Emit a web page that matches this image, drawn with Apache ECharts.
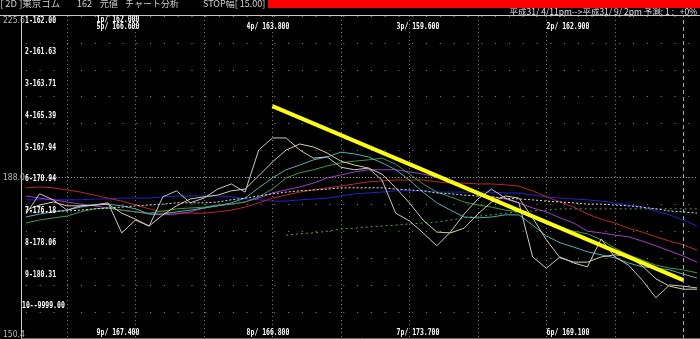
<!DOCTYPE html>
<html><head><meta charset="utf-8">
<script src="https://cdn.jsdelivr.net/npm/echarts@6/dist/echarts.min.js"></script>
<style>html,body{margin:0;padding:0;background:#000;overflow:hidden}#c{width:700px;height:339px}</style>
</head><body><div id="c"></div>
<script>
// ---- data ----
const categories = ['1','2','3','4','5','6','7','8','9','10','11','12','13','14','15','16','17','18','19','20','21','22','23','24','25','26','27','28','29','30','31','32','33','34','35','36','37','38','39','40','41','42','43','44','45','46','47','48','49','50'];
const yTickLabels = ['150.4', '188.0', '225.6'];
const price = [179.5,184.2,182.8,180.4,181.4,181.6,182.1,175.1,178.1,176.7,183.5,184.9,182.1,183.2,185.3,186.5,184.6,194.4,197.2,197.2,194.4,192.5,192.8,190.4,189.8,190.2,187.4,179.7,177.9,175.1,172.1,175.3,179.5,183.0,185.3,183.2,182.1,169.5,166.9,169.5,168.1,167.2,173.7,169.5,167.6,164.1,160.0,163.0,162.7,162.3];
const maKhaki = [180.4,181.6,182.3,181.4,181.4,181.6,181.8,179.7,178.3,176.7,179.3,181.4,183.0,183.5,183.9,184.9,185.3,188.4,191.6,194.4,195.8,195.1,193.7,191.8,190.9,190.2,188.8,185.6,182.1,178.1,175.3,175.1,176.2,179.5,182.3,183.7,183.2,178.6,173.5,169.3,168.3,168.3,169.5,170.0,169.7,167.4,164.4,162.7,162.0,162.0];
const maCyan = [178.8,179.5,180.0,180.4,181.1,181.6,181.8,181.4,180.7,179.5,179.5,180.0,180.4,180.9,181.4,182.1,183.2,185.6,187.9,189.8,190.9,192.1,192.8,193.9,193.5,192.8,191.4,189.8,187.4,184.6,182.1,180.4,178.8,178.6,178.8,179.3,179.3,176.9,174.4,172.8,171.8,170.7,170.0,169.3,168.1,167.2,166.9,166.5,165.5,164.6];
const maGreen = [177.4,178.1,178.6,179.0,180.0,180.7,180.9,180.4,180.0,179.7,180.2,180.7,180.9,181.1,181.6,181.8,182.3,183.5,185.3,187.9,189.1,189.8,190.7,191.4,191.8,192.1,192.5,191.1,188.8,186.5,184.6,183.5,182.3,181.6,181.1,180.4,180.0,178.6,177.2,176.2,175.5,174.9,173.5,171.6,170.0,168.8,167.6,166.9,166.5,165.8];
const maPurple = [183.7,183.2,182.8,182.3,181.8,181.4,180.9,180.4,180.0,179.5,179.3,179.5,180.0,180.9,181.4,181.8,182.3,183.2,184.4,185.1,185.8,186.7,187.9,188.6,189.3,189.8,189.8,189.8,189.3,188.8,188.1,187.0,185.6,184.4,183.5,183.0,182.1,180.9,180.0,178.6,177.4,175.5,175.1,174.6,174.2,173.2,172.1,170.9,169.7,168.3];
const maRed = [185.6,185.8,185.6,185.1,184.6,183.9,183.2,182.5,181.6,180.7,180.0,179.7,179.7,179.7,180.0,180.4,181.1,182.1,183.2,183.9,184.6,185.1,185.6,186.0,186.5,187.0,187.2,187.4,187.4,187.4,187.0,186.7,186.7,186.5,186.5,186.3,186.0,184.9,183.5,182.3,181.1,179.5,178.3,177.4,176.2,175.3,174.2,173.2,172.3,171.1];
const maBlue = [182.8,182.8,182.8,182.8,182.8,183.0,183.0,183.2,183.2,183.2,183.5,183.7,183.7,183.7,183.7,183.5,183.0,182.8,182.5,182.5,182.8,183.0,183.2,183.7,184.2,184.4,184.6,184.9,184.9,184.9,184.6,184.6,184.6,184.6,184.6,184.4,184.4,183.9,183.5,183.2,183.0,182.8,182.5,182.1,181.6,181.1,180.2,179.3,178.1,176.7];
const maWhiteDot = [180.0,180.0,180.2,180.2,180.4,180.7,180.9,181.1,181.4,181.6,181.8,182.1,182.1,182.1,182.3,182.8,183.2,183.7,184.2,184.6,184.9,185.1,185.3,185.6,185.6,185.6,185.6,185.3,185.1,184.9,184.4,184.2,183.9,183.7,183.5,183.2,183.0,182.8,182.5,182.3,182.1,181.8,181.8,181.6,181.4,181.1,180.7,180.2,180.0,179.7];
const maGreenDot = [null,null,null,null,null,null,null,null,null,null,null,null,null,null,null,null,null,null,null,174.6,174.9,175.1,175.5,176.0,176.2,176.5,176.7,176.9,177.2,177.4,177.6,178.1,178.6,179.0,179.3,179.7,180.0,180.2,180.4,180.7,180.7,180.7,180.7,180.7,180.7,180.7,180.7,180.7,180.7,180.7];
const trendLine = [[18, 204.6], [48, 164.1]];
const todayIndex = 48;
const centerValue = 188.0;
const leftLabels = ['1-162.00','2-161.63','3-163.71','4-165.39','5-167.94','6-170.94','7-176.18','8-178.06','9-180.31','10--9999.00'];
const topLabels = [['1p/ 162.000','5p/ 166.600'], ['','4p/ 163.800'], ['','3p/ 159.600'], ['','2p/ 162.900']];
const bottomLabels = ['9p/ 167.400','8p/ 166.800','7p/ 173.700','6p/ 169.100'];
const headerParts = ['[ 2D ]東京ゴム', '162', '元値', 'チャート分析', 'STOP幅[ 15.00]'];
const headerRight = '平成31/ 4/11pm-->平成31/ 9/ 2pm 予測: 1 :   +0%';

// ---- chart ----
const MONO = "'DejaVu Sans Mono','Liberation Mono',monospace";
const JP = "'Noto Sans CJK JP',sans-serif";
const chart = echarts.init(document.getElementById('c'));

function line(name, data, color, width, type, z) {
  return { name, type: 'line', data, z, showSymbol: false, symbol: 'none', silent: true,
    connectNulls: false, lineStyle: { color, width, type: type || 'solid' } };
}
function label(t, x, y, align, fill) {
  return { type: 'text', x, y, z: 20, scaleX: 0.76,
    style: { text: t, fill: fill || '#ffffff', font: 'bold 8.5px ' + MONO, align: align || 'left', verticalAlign: 'middle' } };
}

const graphic = [];
graphic.push({ type: 'rect', shape: { x: 268, y: 0, width: 432, height: 8 }, style: { fill: '#ff0000' }, z: 10 });
const headerX = [0, 77, 100, 125, 203];
headerParts.forEach((t, i) => graphic.push({ type: 'text', x: headerX[i], y: 3.5, z: 10, scaleX: i === 0 ? 1.05 : 1,
  style: { text: t, fill: '#d0d0d0', font: '9px ' + JP, verticalAlign: 'middle' } }));
graphic.push({ type: 'text', x: 697, y: 12, z: 10,
  style: { text: headerRight, fill: '#e0e0e0', font: '8.5px ' + JP, align: 'right', verticalAlign: 'middle' } });
graphic.push({ type: 'line', shape: { x1: 0, y1: 15.5, x2: 700, y2: 15.5 }, style: { stroke: '#c8c8c8', lineWidth: 1 }, z: 10 });
graphic.push({ type: 'line', shape: { x1: 21.5, y1: 15.5, x2: 21.5, y2: 339 }, style: { stroke: '#c8c8c8', lineWidth: 1 }, z: 10 });
graphic.push({ type: 'line', shape: { x1: 21.5, y1: 338.5, x2: 700, y2: 338.5 }, style: { stroke: '#707070', lineWidth: 1 }, z: 10 });
leftLabels.forEach((t, k) => graphic.push(label(t, k === 9 ? 22 : 25, 20.5 + 31.75 * k)));
const pCenters = [118, 268, 418, 568];
topLabels.forEach((pair, k) => {
  pair.forEach((t, r) => { if (t) graphic.push(label(t, pCenters[k], 19.5 + 7.5 * r, 'center')); });
});
bottomLabels.forEach((t, k) => graphic.push(label(t, pCenters[k], 333, 'center')));

const option = {
  backgroundColor: '#000',
  animation: false,
  grid: { left: 21, right: 3, top: 16, bottom: 0, containLabel: false },
  xAxis: { type: 'category', data: categories, boundaryGap: false,
    axisLine: { show: false }, axisTick: { show: false }, axisLabel: { show: false },
    splitLine: { show: true, interval: (i) => i % 5 === 3 && i !== todayIndex,
      lineStyle: { color: '#808080', width: 1, type: [1, 3] } } },
  yAxis: { type: 'value', min: 150.4, max: 225.6, interval: 75.2 / 12,
    axisLine: { show: false }, axisTick: { show: false },
    axisLabel: { show: true, margin: 1, color: '#b8b8b8', fontFamily: "'DejaVu Sans Condensed','DejaVu Sans',sans-serif", fontSize: 8.5,
      verticalAlignMinLabel: 'bottom', verticalAlignMaxLabel: 'top',
      formatter: (v) => {
        for (const t of yTickLabels) if (Math.abs(v - parseFloat(t)) < 0.01) return t;
        return '';
      } },
    splitLine: { show: true, lineStyle: { color: '#8a8a8a', width: 1, type: [1, 12.8] } } },
  series: [
    Object.assign(line('blue', maBlue, '#2222cc', 1, 'solid', 2), {
      markLine: { silent: true, symbol: ['none', 'none'], label: { show: false },
        data: [
          { yAxis: centerValue, lineStyle: { color: '#a0a0a0', width: 1, type: [1, 2] } },
          { xAxis: todayIndex, lineStyle: { color: '#a8a8a8', width: 1, type: [4, 3] } }
        ] } }),
    line('red', maRed, '#b82828', 1, 'solid', 3),
    line('purple', maPurple, '#a03cc8', 1, 'solid', 3),
    line('green', maGreen, '#3c9c3c', 1, 'solid', 3),
    line('cyan', maCyan, '#4cb0b0', 1, 'solid', 3),
    line('greenDot', maGreenDot, '#55a055', 1, [2, 3], 3),
    line('whiteDot', maWhiteDot, '#e0e0e0', 1, [2, 2], 3),
    line('khaki', maKhaki, '#d4cfa2', 1, 'solid', 4),
    line('price', price, '#c8c8c8', 1, 'solid', 5),
    { name: 'trend', type: 'line', data: trendLine, z: 8, showSymbol: false, symbol: 'none', silent: true,
      lineStyle: { color: '#ffff10', width: 4 } }
  ],
  graphic
};
chart.setOption(option);
</script>
</body></html>
